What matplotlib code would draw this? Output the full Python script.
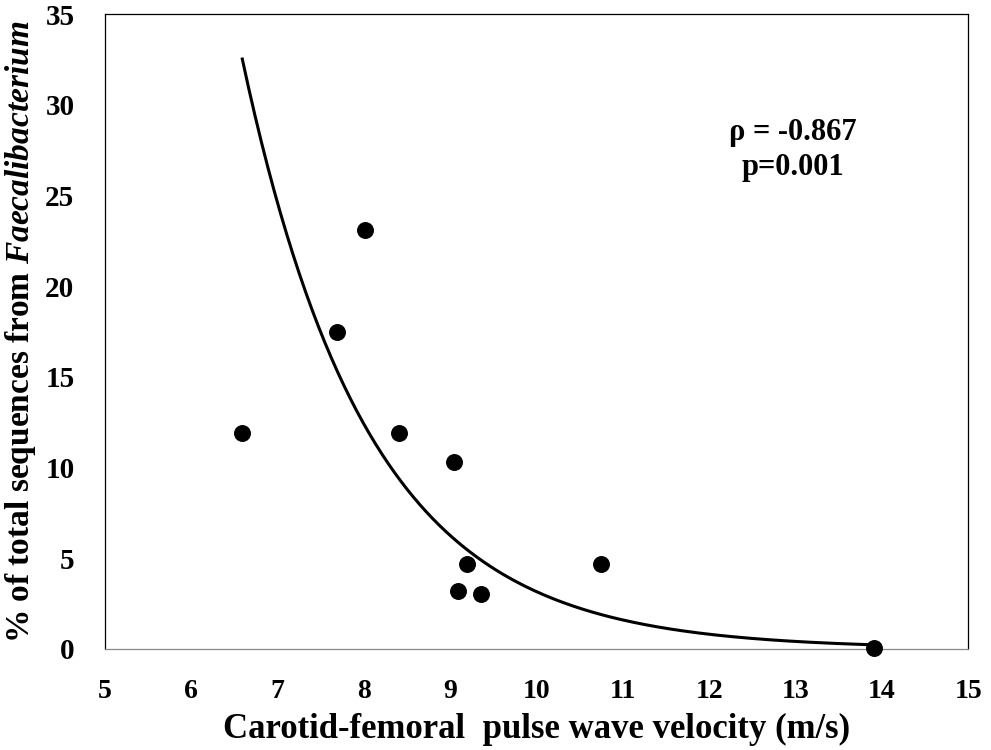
import numpy as np
import matplotlib.pyplot as plt

plt.rcParams['font.family'] = 'Liberation Serif'
plt.rcParams['font.weight'] = 'bold'
plt.rcParams['mathtext.fontset'] = 'custom'
plt.rcParams['mathtext.rm'] = 'Liberation Serif:bold'
plt.rcParams['mathtext.it'] = 'Liberation Serif:italic:bold'

# pulse wave velocity (m/s) vs % Faecalibacterium
pwv = [6.59, 7.69, 8.01, 8.40, 9.04, 9.19, 9.09, 9.35, 10.75, 13.91]
faecali = [11.9, 17.5, 23.1, 11.9, 10.3, 4.7, 3.2, 3.0, 4.7, 0.05]

# exponential trendline y = a * exp(b * x)
trend_a = 2970.0
trend_b = -0.685

fig = plt.figure(figsize=(9.91, 7.5), dpi=100)
ax = fig.add_axes([0.106, 0.135, 0.871, 0.846])

xs = np.linspace(min(pwv), max(pwv), 200)
ax.plot(xs, trend_a * np.exp(trend_b * xs), color='black', lw=2.2, zorder=2)
ax.scatter(pwv, faecali, s=125, color='black', zorder=3, clip_on=False)

ax.set_xlim(5, 15)
ax.set_ylim(0, 35)
ax.set_xticks(range(5, 16))
ax.set_yticks(range(0, 36, 5))
ax.tick_params(length=0)
ax.tick_params(axis='x', pad=22, labelsize=20)
ax.tick_params(axis='y', pad=22, labelsize=21)

for s in ax.spines.values():
    s.set_linewidth(0.9)
    s.set_color('black')
ax.spines['bottom'].set_color('#888888')

ax.set_xlabel('Carotid-femoral  pulse wave velocity (m/s)', fontsize=25,
              fontweight='bold', labelpad=6)
ax.set_ylabel('% of total sequences from $\\mathit{Faecalibacterium}$', fontsize=24,
              fontweight='bold', labelpad=5)

ax.text(12.97, 28.5, 'ρ = -0.867', ha='center', va='center', fontsize=22, fontweight='bold')
ax.text(12.97, 26.55, 'p=0.001', ha='center', va='center', fontsize=22, fontweight='bold')

fig.savefig('out.png', dpi=100)
